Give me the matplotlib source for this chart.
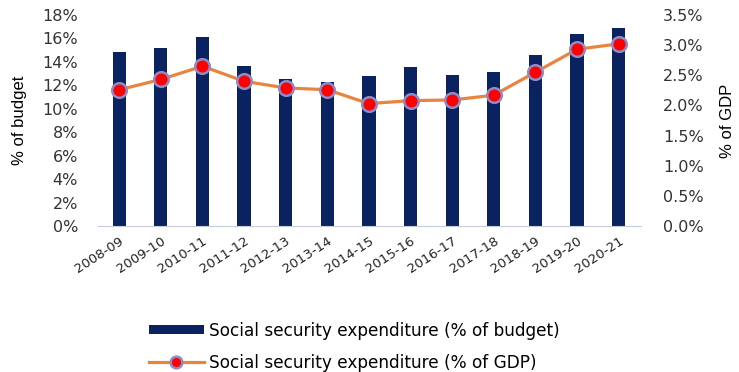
import matplotlib.pyplot as plt
import numpy as np

years = ['2008-09', '2009-10', '2010-11', '2011-12', '2012-13', '2013-14', '2014-15',
         '2015-16', '2016-17', '2017-18', '2018-19', '2019-20', '2020-21']
# % of budget (bars, left axis)
budget = [14.8, 15.15, 16.1, 13.65, 12.55, 12.3, 12.8, 13.6, 12.9, 13.1, 14.6, 16.4, 16.85]
# % of GDP (line, right axis)
gdp = [2.26, 2.43, 2.65, 2.40, 2.29, 2.26, 2.03, 2.08, 2.09, 2.17, 2.55, 2.93, 3.02]

plt.rcParams['font.family'] = ['DejaVu Sans']
narrow = ['Liberation Sans Narrow', 'Liberation Sans', 'DejaVu Sans']

fig = plt.figure(figsize=(7.39, 3.72), dpi=100)
ax = fig.add_axes([0.132, 0.392, 0.735, 0.568])
x = np.arange(len(years))

bars = ax.bar(x, budget, width=0.32, color='#0b2260', zorder=2,
              label='Social security expenditure (% of budget)')
ax.set_ylim(0, 18)
ax.set_xlim(-0.52, 12.53)
ax.set_yticks(range(0, 19, 2))
ax.set_yticklabels([f'{v}%' for v in range(0, 19, 2)], fontsize=11.5, color='#333333')
ax.set_xticks(x)
ax.set_xticklabels(years, rotation=33, ha='right', rotation_mode='anchor',
                   fontsize=9.5, color='#222222')
ax.tick_params(axis='y', length=0, pad=14)
ax.tick_params(axis='x', length=0, pad=6)
for s in ['top', 'right', 'left']:
    ax.spines[s].set_visible(False)
ax.spines['bottom'].set_color('#c5cbd8')
ax.set_ylabel('% of budget', family=narrow, fontsize=12, labelpad=11)

ax2 = ax.twinx()
line, = ax2.plot(x, gdp, color='#e8843e', lw=2.3, marker='o', markersize=10.5,
                 markerfacecolor='#ff0000', markeredgecolor='#8c8cc8',
                 markeredgewidth=1.8, zorder=3,
                 label='Social security expenditure (% of GDP)')
ax2.set_ylim(0, 3.5)
ax2.set_yticks(np.arange(0, 3.51, 0.5))
ax2.set_yticklabels([f'{v:.1f}%' for v in np.arange(0, 3.51, 0.5)], fontsize=11.5, color='#333333')
ax2.tick_params(length=0, pad=16)
for s in ['top', 'right', 'left', 'bottom']:
    ax2.spines[s].set_visible(False)
ax2.set_ylabel('% of GDP', family=narrow, fontsize=12, labelpad=12)

fig.legend(handles=[bars, line], loc='center', bbox_to_anchor=(0.48, 0.068),
           frameon=False, fontsize=12.2, handlelength=3.2, handleheight=0.5,
           labelspacing=0.85, handletextpad=0.35, borderpad=0, markerscale=0.8)

plt.savefig('out.png', dpi=100)
